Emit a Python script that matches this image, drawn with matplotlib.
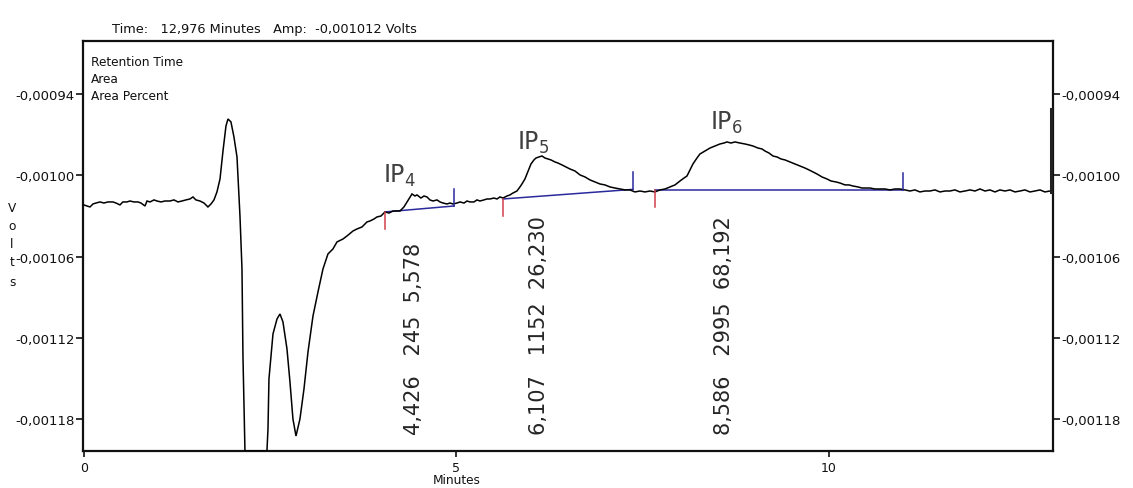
import matplotlib
matplotlib.use("Agg")
import matplotlib.pyplot as plt
import numpy as np

plt.rcParams["font.family"] = ["DejaVu Sans"]
plt.rcParams["mathtext.fontset"] = "custom"
plt.rcParams["mathtext.rm"] = "Liberation Sans"

# ---- detector trace: time (minutes) and amplitude (microvolts) ----
time_min = [
    0.000, 0.040, 0.081, 0.121, 0.161, 0.215, 0.268, 0.322, 0.389, 0.430,
    0.483, 0.523, 0.577, 0.617, 0.671, 0.725, 0.765, 0.819, 0.846, 0.886,
    0.940, 0.980, 1.034, 1.087, 1.154, 1.208, 1.262, 1.315, 1.369, 1.423,
    1.463, 1.503, 1.557, 1.611, 1.664, 1.705, 1.745, 1.785, 1.826, 1.866,
    1.906, 1.933, 1.973, 2.013, 2.054, 2.094, 2.121, 2.134, 2.161, 2.456,
    2.470, 2.483, 2.537, 2.591, 2.631, 2.671, 2.725, 2.765, 2.805, 2.846,
    2.899, 2.953, 3.007, 3.074, 3.141, 3.208, 3.275, 3.342, 3.396, 3.477,
    3.530, 3.611, 3.664, 3.732, 3.799, 3.839, 3.893, 3.933, 3.987, 4.040,
    4.094, 4.148, 4.201, 4.242, 4.295, 4.336, 4.376, 4.403, 4.443, 4.470,
    4.523, 4.564, 4.604, 4.644, 4.685, 4.738, 4.779, 4.819, 4.872, 4.913,
    4.953, 5.007, 5.047, 5.101, 5.141, 5.181, 5.235, 5.275, 5.315, 5.369,
    5.409, 5.450, 5.503, 5.544, 5.584, 5.624, 5.678, 5.718, 5.758, 5.812,
    5.852, 5.879, 5.919, 5.946, 5.973, 6.000, 6.040, 6.067, 6.107, 6.148,
    6.188, 6.228, 6.268, 6.322, 6.362, 6.416, 6.470, 6.523, 6.591, 6.658,
    6.725, 6.792, 6.859, 6.926, 6.993, 7.060, 7.128, 7.195, 7.262, 7.329,
    7.396, 7.463, 7.530, 7.597, 7.664, 7.732, 7.799, 7.866, 7.933, 8.000,
    8.054, 8.094, 8.134, 8.174, 8.228, 8.268, 8.336, 8.403, 8.470, 8.537,
    8.591, 8.631, 8.685, 8.738, 8.805, 8.872, 8.926, 8.980, 9.047, 9.101,
    9.141, 9.195, 9.248, 9.302, 9.356, 9.409, 9.477, 9.544, 9.611, 9.678,
    9.732, 9.785, 9.839, 9.906, 9.973, 10.027, 10.094, 10.148, 10.215, 10.268,
    10.322, 10.389, 10.443, 10.497, 10.550, 10.617, 10.685, 10.752, 10.819, 10.886,
    10.953, 11.020, 11.087, 11.154, 11.221, 11.289, 11.356, 11.423, 11.490, 11.557,
    11.624, 11.691, 11.758, 11.826, 11.893, 11.960, 12.027, 12.094, 12.161, 12.228,
    12.295, 12.362, 12.430, 12.497, 12.564, 12.631, 12.698, 12.765, 12.832, 12.899,
    12.966,
]
amp_uv = [
    -1021.8, -1022.6, -1023.3, -1021.1, -1020.4, -1019.6, -1020.4, -1019.6, -1019.6, -1020.4,
    -1021.8, -1019.6, -1019.6, -1018.9, -1019.6, -1019.6, -1020.4, -1022.6, -1018.9, -1019.6,
    -1018.1, -1018.9, -1019.6, -1018.9, -1018.9, -1018.1, -1019.6, -1018.9, -1018.1, -1017.4,
    -1015.9, -1018.1, -1018.9, -1020.4, -1023.3, -1021.1, -1018.1, -1012.2, -1002.6, -981.9,
    -963.4, -958.2, -960.4, -971.5, -986.3, -1030.0, -1069.2, -1133.6, -1203.9, -1203.9,
    -1187.6, -1150.6, -1117.3, -1106.2, -1102.5, -1108.4, -1128.4, -1152.8, -1180.2, -1192.8,
    -1180.2, -1158.0, -1130.6, -1104.0, -1086.2, -1069.2, -1058.1, -1054.4, -1049.2, -1047.0,
    -1044.8, -1041.1, -1039.6, -1038.1, -1034.4, -1033.7, -1032.2, -1030.7, -1030.0, -1027.0,
    -1027.8, -1026.3, -1026.3, -1026.3, -1023.3, -1019.6, -1015.9, -1013.7, -1015.2, -1014.4,
    -1016.7, -1015.2, -1015.9, -1018.1, -1018.9, -1018.1, -1019.6, -1020.4, -1021.1, -1020.4,
    -1021.1, -1020.4, -1019.6, -1020.4, -1018.9, -1019.6, -1019.6, -1018.1, -1018.9, -1018.1,
    -1017.4, -1017.4, -1016.7, -1017.4, -1015.9, -1016.7, -1015.2, -1014.4, -1013.0, -1011.5,
    -1008.5, -1006.3, -1002.6, -998.9, -995.2, -991.5, -988.5, -987.1, -986.3, -985.6,
    -987.1, -987.8, -988.5, -990.0, -990.8, -992.2, -993.7, -995.2, -996.7, -999.6,
    -1001.1, -1003.3, -1004.8, -1006.3, -1007.0, -1008.5, -1009.3, -1010.0, -1010.7, -1010.7,
    -1012.2, -1011.5, -1012.2, -1011.5, -1012.2, -1010.7, -1010.0, -1008.5, -1007.0, -1004.1,
    -1001.9, -1000.4, -995.9, -991.5, -987.1, -984.1, -981.9, -979.7, -978.2, -976.7,
    -976.0, -975.2, -976.0, -975.2, -976.0, -976.7, -977.4, -978.2, -979.7, -980.4,
    -981.9, -983.4, -985.6, -986.3, -987.8, -988.5, -990.0, -991.5, -993.0, -994.5,
    -995.9, -997.4, -998.9, -1001.1, -1002.6, -1004.1, -1004.8, -1005.6, -1007.0, -1007.0,
    -1007.8, -1008.5, -1009.3, -1009.3, -1009.3, -1010.0, -1010.0, -1010.0, -1010.7, -1010.0,
    -1010.0, -1010.7, -1011.5, -1010.7, -1012.2, -1011.5, -1011.5, -1010.7, -1012.2, -1011.5,
    -1011.5, -1010.7, -1012.2, -1011.5, -1010.7, -1011.5, -1010.0, -1011.5, -1010.7, -1012.2,
    -1010.7, -1011.5, -1010.7, -1012.2, -1011.5, -1010.7, -1012.2, -1011.5, -1010.7, -1012.2,
    -1011.5,
]

# ---- integrated peaks ----
peak_names = ["IP_4", "IP_5", "IP_6"]
retention_time = [4.426, 6.107, 8.586]
peak_area = [245, 1152, 2995]
area_percent = [5.578, 26.230, 68.192]
# peak label anchor (time, amplitude in microvolts)
name_time = [4.013, 5.812, 8.403]
name_amp_uv = [-1004.8, -980.4, -965.6]

# integration baselines: start / end time and amplitude (microvolts)
base_start_t = [4.040, 5.624, 7.664]
base_start_uv = [-1027.0, -1017.4, -1010.7]
base_end_t = [4.966, 7.369, 10.993]
base_end_uv = [-1022.6, -1010.3, -1010.7]

# cursor readout
cursor_time = 12.976
cursor_amp = -0.001012
cursor_top = -0.000951

ytick_vals = [-0.00094, -0.00100, -0.00106, -0.00112, -0.00118]
ytick_labels = ["-0,00094", "-0,00100", "-0,00106", "-0,00112", "-0,00118"]
xtick_vals = [0, 5, 10]
xtick_labels = ["0", "5", "10"]

W, H = 1133, 489
fig = plt.figure(figsize=(W / 100, H / 100), dpi=100)
ax = fig.add_axes([83 / W, 37 / H, 970 / W, 410 / H])

t = np.array(time_min)
v = np.array(amp_uv) * 1e-6
ax.plot(t, v, color="black", lw=1.1, solid_joinstyle="miter", zorder=3)

# baselines and start/end markers
navy = "#2a2a9c"
red = "#d2404a"
tick_h = 9e-6
for ts, vs, te, ve in zip(base_start_t, base_start_uv, base_end_t, base_end_uv):
    ax.plot([ts, te], [vs * 1e-6, ve * 1e-6], color=navy, lw=1.1, zorder=2)
    ax.plot([ts, ts], [vs * 1e-6, vs * 1e-6 - 1.4 * tick_h], color=red, lw=1.1, zorder=4)
    ax.plot([te, te], [ve * 1e-6, ve * 1e-6 + 1.4 * tick_h], color=navy, lw=1.1, zorder=4)

# cursor line
ax.plot([cursor_time, cursor_time], [cursor_amp, cursor_top], color="#222222", lw=2.2, zorder=4)

# peak table text, rotated at each retention time
for rt, ar, pc in zip(retention_time, peak_area, area_percent):
    s = f"{rt:.3f}".replace(".", ",") + "   " + f"{ar}" + "  " + f"{pc:.3f}".replace(".", ",")
    ax.text(rt, -1191.3e-6, s, rotation=90, ha="center", va="bottom",
            fontsize=15, color="#262626", family="DejaVu Sans", zorder=5)

# peak names
for nm, nt, nv in zip(peak_names, name_time, name_amp_uv):
    ax.text(nt, nv * 1e-6, r"$\mathregular{" + nm + "}$", ha="left", va="baseline",
            fontsize=17, color="#404040", zorder=5)

ax.set_xlim(-0.013, 13.007)
ax.set_ylim(-1203.9e-6, -900.5e-6)

ax.set_yticks(ytick_vals)
ax.set_yticklabels(ytick_labels)
ax.set_xticks(xtick_vals)
ax.set_xticklabels(xtick_labels)
ax.tick_params(axis="y", which="both", direction="out", length=5, width=1.2,
               left=True, right=True, labelleft=True, labelright=True,
               labelsize=9.5, pad=1, colors="#111111")
ax.tick_params(axis="x", direction="out", length=4, width=1.2, labelsize=9,
               pad=3, colors="#111111")
for sp in ax.spines.values():
    sp.set_linewidth(1.6)
    sp.set_color("#111111")

# info block inside the plot
for txt, yy in zip(["Retention Time", "Area", "Area Percent"], [0.951, 0.909, 0.866]):
    ax.text(0.0085, yy, txt, transform=ax.transAxes, ha="left", va="center",
            fontsize=8.7, color="#111111")

# header readout
fig.text(112 / W, 1 - 30 / H, "Time:   12,976 Minutes   Amp:  -0,001012 Volts",
         ha="left", va="center", fontsize=9.3, color="#111111")

# axis titles
fig.text(457 / W, 1 - 481 / H, "Minutes", ha="center", va="center", fontsize=8.7,
         color="#111111")
for ch, yy in zip("Volts", [208, 227, 245, 262, 282]):
    fig.text(12 / W, 1 - yy / H, ch, ha="center", va="center", fontsize=8.7,
             color="#111111")

fig.savefig("out.png", dpi=100)
